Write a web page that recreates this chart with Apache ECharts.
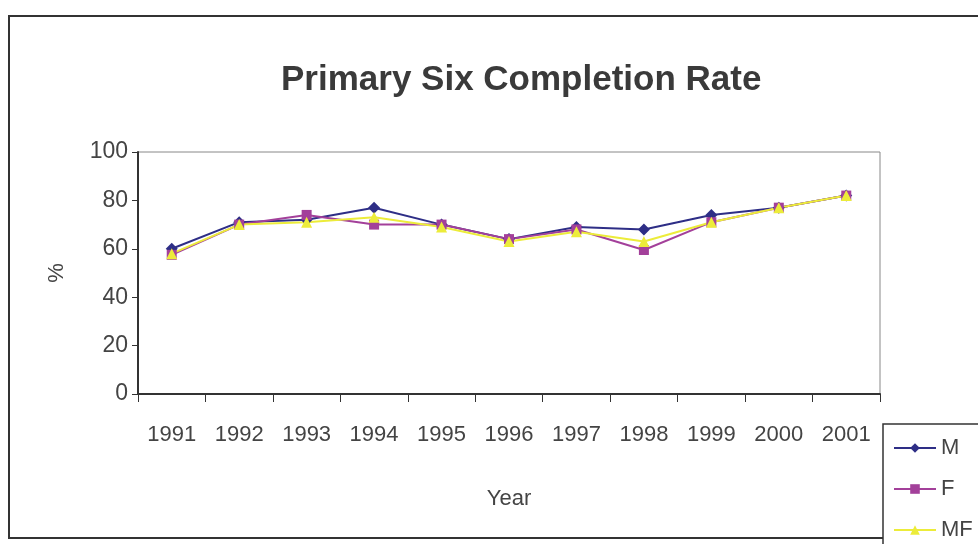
<!DOCTYPE html>
<html>
<head>
<meta charset="utf-8">
<title>Primary Six Completion Rate</title>
<script src="https://cdn.jsdelivr.net/npm/echarts@6/dist/echarts.min.js"></script>
<style>
  html, body { margin: 0; padding: 0; background: #fff; }
  #main { width: 978px; height: 544px; }
</style>
</head>
<body>
<div id="main"></div>
<script>
// data
var years = ["1991", "1992", "1993", "1994", "1995", "1996", "1997", "1998", "1999", "2000", "2001"];
var maleRate = [60, 71, 72, 77, 70, 64, 69, 68, 74, 77, 82];
var femaleRate = [57.5, 70, 74, 70, 70, 64, 68, 59.5, 71, 77, 82];
var allRate = [58, 70, 71, 73, 69, 63, 67, 63, 71, 77, 82];
var yTicks = [0, 20, 40, 60, 80, 100];

var font = "Liberation Sans, Arial, sans-serif";
var chart = echarts.init(document.getElementById("main"));

function lineSeries(name, data, color, symbol, size) {
  return {
    name: name,
    type: "line",
    data: data,
    symbol: symbol,
    symbolSize: size,
    lineStyle: { color: color, width: 2 },
    itemStyle: { color: color },
    z: 3
  };
}

chart.setOption({
  animation: false,
  textStyle: { fontFamily: font },
  title: {
    text: "Primary Six Completion Rate",
    left: 276,
    top: 58,
    textStyle: { fontSize: 35, fontWeight: "bold", color: "#3a3a3a", fontFamily: font }
  },
  graphic: [
    // outer chart frame
    {
      type: "rect",
      shape: { x: 9, y: 16, width: 1000, height: 522 },
      style: { fill: "none", stroke: "#333", lineWidth: 2 },
      z: -1
    },
    // legend box, runs off the page like the scan
    {
      type: "rect",
      shape: { x: 883, y: 424, width: 120, height: 140 },
      style: { fill: "#fff", stroke: "#333", lineWidth: 1.5 },
      z: 0
    }
  ],
  legend: {
    orient: "vertical",
    left: 893,
    top: 437,
    itemWidth: 42,
    itemHeight: 12,
    itemGap: 19,
    padding: 0,
    z: 5,
    textStyle: { fontSize: 22, color: "#444", fontFamily: font },
    data: ["M", "F", "MF"]
  },
  grid: {
    left: 138,
    right: 98,
    top: 152,
    height: 242,
    show: true,
    borderColor: "#888",
    borderWidth: 1
  },
  xAxis: {
    type: "category",
    data: years,
    boundaryGap: true,
    name: "Year",
    nameLocation: "middle",
    nameGap: 94,
    nameTextStyle: { fontSize: 22, color: "#444" },
    axisLine: { lineStyle: { color: "#333", width: 2 } },
    axisTick: { show: true, length: 8, lineStyle: { color: "#333" } },
    axisLabel: { fontSize: 22, color: "#444", margin: 30 }
  },
  yAxis: {
    type: "value",
    min: yTicks[0],
    max: yTicks[yTicks.length - 1],
    interval: 20,
    name: "%",
    nameLocation: "middle",
    nameGap: 70,
    nameTextStyle: { fontSize: 22, color: "#444" },
    axisLine: { show: true, lineStyle: { color: "#333", width: 2 } },
    axisTick: { show: true, length: 6, lineStyle: { color: "#333" } },
    splitLine: { show: false },
    axisLabel: { fontSize: 23, color: "#444", margin: 10 }
  },
  series: [
    lineSeries("M", maleRate, "#2e2e86", "diamond", 12),
    lineSeries("F", femaleRate, "#a3409a", "rect", 10),
    lineSeries("MF", allRate, "#ecec3a", "triangle", 11)
  ]
});
</script>
</body>
</html>
